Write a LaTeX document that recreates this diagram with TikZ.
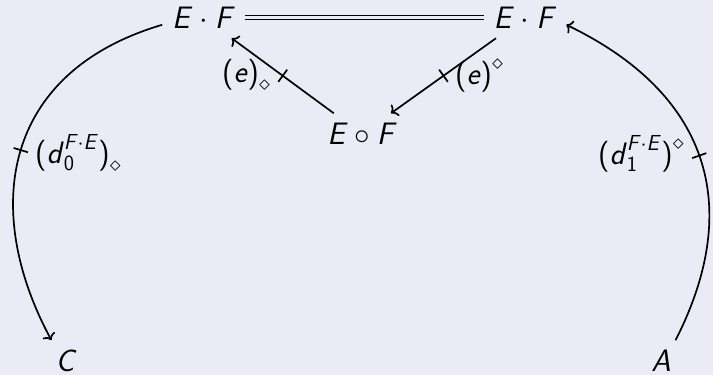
\RequirePackage{fix-cm}
\documentclass[tikz,border=0pt]{standalone}
\usepackage{amsmath}
\usetikzlibrary{arrows.meta,decorations.markings}
\definecolor{bg}{RGB}{235,235,246}
\newcommand\mv[1]{\text{\sffamily\itshape #1\/}}
\newcommand\mup[1]{\text{\sffamily #1}}
\begin{document}
\begin{tikzpicture}[x=1pt,y=-1pt,
  obj/.style={font=\fontsize{31}{36}\selectfont, inner sep=2pt, outer sep=8pt},
  lab/.style={font=\fontsize{31}{36}\selectfont, inner sep=0pt, anchor=base west},
  arr/.style={line width=1.7pt, -{Computer Modern Rightarrow[length=6pt,width=14pt]}},
  tickmark/.style={postaction={decorate}, decoration={markings,
     mark=at position 0.5 with {\draw[line width=1.7pt,-] (0,-7.5pt) -- (0,7.5pt);}}},
  eqline/.style={double=bg, double distance=2.2pt, line width=1.5pt}
]
\useasboundingbox[fill=bg] (0,0) rectangle (713,375);
\node[obj] (EF1) at (203.5,17.5) {$\mv{E}\cdot\mv{F}$};
\node[obj] (EF2) at (525,17.5) {$\mv{E}\cdot\mv{F}$};
\node[obj] (EcF) at (362,134) {$\mv{E}\circ\mv{F}$};
\node[obj] (C) at (66,361) {$\mv{C}$};
\node[obj] (A) at (661,361) {$\mv{A}$};
\draw[eqline] (EF1) -- (EF2);
\draw[arr,tickmark] (EcF) -- (EF1);
\draw[arr,tickmark] (EF2) -- (EcF);
\draw[arr,tickmark] (EF1.190) .. controls (1.4,72.4) and (-18.4,210.6) .. (C.125);
\draw[arr,tickmark] (A.55) .. controls (745,204) and (706.8,92.5) .. (EF2.-10);
\node[lab] (l1) at (222,82) {$\mup{(}\mv{e}\mup{)}_{\diamond}$};
\node[lab] (l2) at (455,84) {$\mup{(}\mv{e}\mup{)}^{\diamond}$};
\node[lab] (l3) at (35,163) {$\mup{(}\mv{d}_{\mup{0}}^{\mv{F}\cdot\mv{E}}\mup{)}_{\diamond}$};
\node[lab] (l4) at (598,164) {$\mup{(}\mv{d}_{\mup{1}}^{\mv{F}\cdot\mv{E}}\mup{)}^{\diamond}$};
\end{tikzpicture}
\end{document}
